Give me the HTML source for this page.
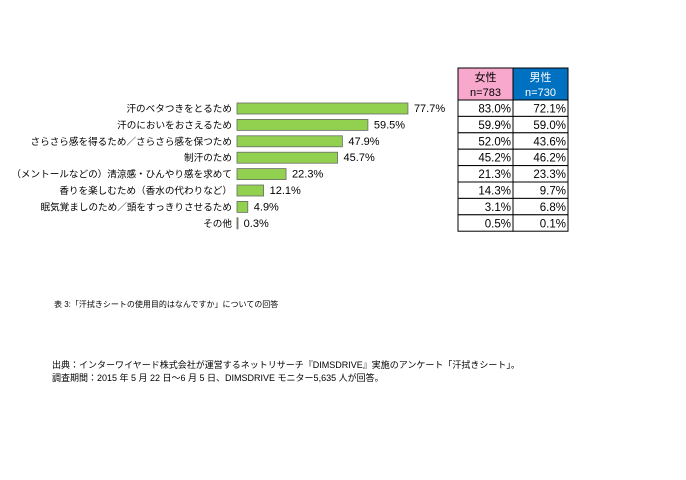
<!DOCTYPE html>
<html><head><meta charset="utf-8"><style>
body{margin:0;background:#fff;width:686px;height:475px;overflow:hidden;font-family:"Liberation Sans","Noto Sans CJK JP",sans-serif;}
svg text{font-family:"Liberation Sans","Noto Sans CJK JP",sans-serif;}
</style></head><body>
<svg id="c" width="686" height="475"></svg>
<script>
const categories=["汗のベタつきをとるため","汗のにおいをおさえるため","さらさら感を得るため／さらさら感を保つため","制汗のため","（メントールなどの）清涼感・ひんやり感を求めて","香りを楽しむため（香水の代わりなど）","眠気覚ましのため／頭をすっきりさせるため","その他"];
const totals=[77.7,59.5,47.9,45.7,22.3,12.1,4.9,0.3];
const female=[83.0,59.9,52.0,45.2,21.3,14.3,3.1,0.5];
const male=[72.1,59.0,43.6,46.2,23.3,9.7,6.8,0.1];
const svg=document.getElementById('c');const NS='http://www.w3.org/2000/svg';
function el(t,a,txt){const e=document.createElementNS(NS,t);for(const k in a)e.setAttribute(k,a[k]);if(txt!=null)e.textContent=txt;svg.appendChild(e);return e;}
const x0=237,sc=2.2,y0=100,rh=16.4;
const xs=v=>x0+v*sc, yr=i=>y0+i*rh;
categories.forEach((c,i)=>{
 const y=yr(i);
 let t=el('text',{x:232,y:y+12,'text-anchor':'end','font-size':9.6,fill:'#000'},c);
 
 
 let b=el('rect',{x:x0,y:y+3,width:Math.max(totals[i]*sc,1),height:11,fill:'#92D050',stroke:'#6a6a6a','stroke-width':0.8});
 
 
 let v=el('text',{x:xs(totals[i])+6,y:y+12,'font-size':11,fill:'#000'},totals[i].toFixed(1)+'%');
 
 
});
const tx=[458,513,568];
let h1=el('rect',{x:458,y:68,width:55,height:32,fill:'#F7A8CC',stroke:'#000','stroke-width':1});

let h2=el('rect',{x:513,y:68,width:55,height:32,fill:'#0070C0',stroke:'#000','stroke-width':1});

el('text',{x:485.5,y:81,'text-anchor':'middle','font-size':11,fill:'#000'},'女性');
el('text',{x:485.5,y:96,'text-anchor':'middle','font-size':11,fill:'#000'},'n=783');
el('text',{x:540.5,y:81,'text-anchor':'middle','font-size':11,fill:'#fff'},'男性');
el('text',{x:540.5,y:96,'text-anchor':'middle','font-size':11,fill:'#fff'},'n=730');
categories.forEach((c,i)=>{
 const y=yr(i);
 [female,male].forEach((arr,j)=>{
  let r=el('rect',{x:tx[j],y:y,width:55,height:rh,fill:'#fff',stroke:'#000','stroke-width':1});
  
  
  el('text',{x:tx[j]+53,y:y+12.5,'text-anchor':'end','font-size':11.5,fill:'#000'},arr[i].toFixed(1)+'%');
 });
});
let cap=el('text',{x:54,y:307,'font-size':8,fill:'#000'},'表 3:「汗拭きシートの使用目的はなんですか」についての回答');

let s1=el('text',{x:52,y:368,'font-size':9,fill:'#000'},'出典：インターワイヤード株式会社が運営するネットリサーチ『DIMSDRIVE』実施のアンケート「汗拭きシート」。');

let s2=el('text',{x:52,y:381,'font-size':9,fill:'#000'},'調査期間：2015 年 5 月 22 日～6 月 5 日、DIMSDRIVE モニター5,635 人が回答。');

</script>
</body></html>
